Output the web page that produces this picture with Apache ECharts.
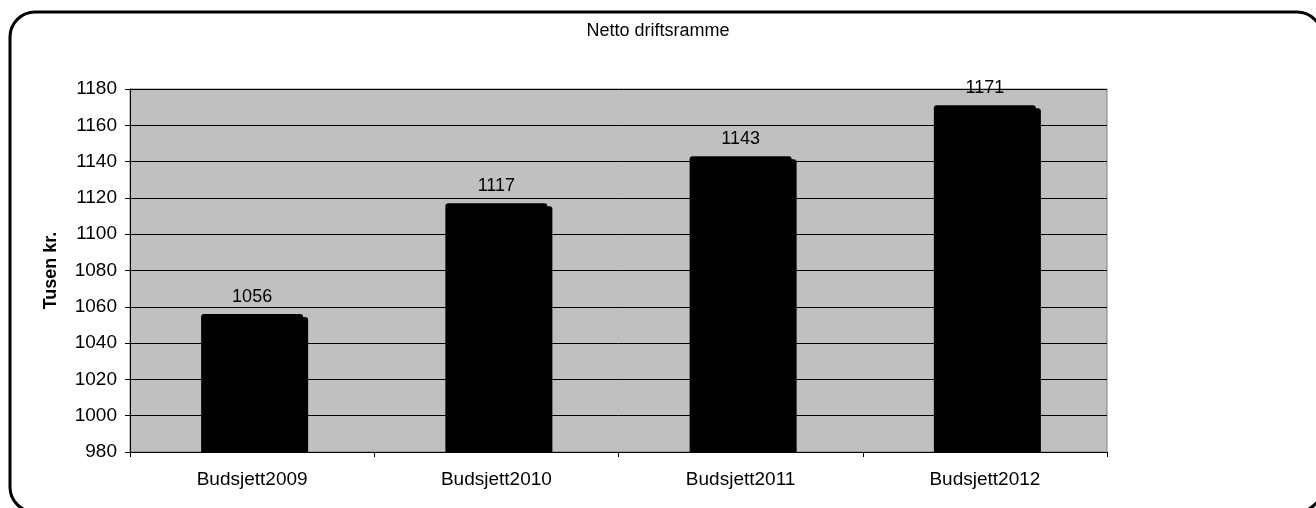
<!DOCTYPE html>
<html>
<head>
<meta charset="utf-8">
<script src="https://cdn.jsdelivr.net/npm/echarts@6/dist/echarts.min.js"></script>
<style>html,body{margin:0;padding:0;background:#fff}#c{width:1316px;height:508px}</style>
</head>
<body>
<div id="c"></div>
<script>
const categories = ['Budsjett2009', 'Budsjett2010', 'Budsjett2011', 'Budsjett2012'];
const values = [1056, 1117, 1143, 1171];
const titleText = 'Netto driftsramme';
const yAxisName = 'Tusen kr.';

const chart = echarts.init(document.getElementById('c'), null, {renderer: 'canvas'});
const font = 'Liberation Sans, Arial, sans-serif';
chart.setOption({
  animation: false,
  backgroundColor: '#fff',
  title: {
    text: titleText, left: 'center', top: 17,
    textStyle: {fontFamily: font, fontSize: 18, fontWeight: 'normal', color: '#000'}
  },
  graphic: [{
    type: 'rect', shape: {x: 10, y: 12, width: 1312, height: 500, r: 25},
    style: {fill: 'none', stroke: '#000', lineWidth: 3}, z: 100
  }, {
    type: 'rect', shape: {x: 131, y: 453, width: 985, height: 5},
    style: {fill: '#fff'}, z: 5
  }],
  grid: {left: 130, right: 209, top: 89, bottom: 56, containLabel: false,
         show: true, backgroundColor: '#C0C0C0', borderColor: '#808080', borderWidth: 1},
  xAxis: {
    type: 'category', data: categories, z: 10,
    axisLine: {lineStyle: {color: '#000', width: 1}},
    axisTick: {show: true, length: 5, alignWithLabel: false, lineStyle: {color: '#000'}},
    axisLabel: {margin: 18, fontFamily: font, fontSize: 19, color: '#000'}
  },
  yAxis: {
    type: 'value', min: 980, max: 1180, interval: 20,
    name: yAxisName, nameLocation: 'middle', nameGap: 70, nameRotate: 90,
    nameTextStyle: {fontFamily: font, fontSize: 18, fontWeight: 'bold', color: '#000'},
    axisLine: {show: true, lineStyle: {color: '#000', width: 1}},
    axisTick: {show: true, length: 5, lineStyle: {color: '#000'}},
    axisLabel: {margin: 13, fontFamily: font, fontSize: 19, color: '#000',
                formatter: v => String(v)},
    splitLine: {show: true, lineStyle: {color: '#000', width: 1}}
  },
  series: [{
    type: 'bar', data: values, barWidth: 102,
    itemStyle: {color: '#000', borderRadius: [3, 3, 0, 0],
                shadowColor: '#000', shadowBlur: 0, shadowOffsetX: 5, shadowOffsetY: 3},
    label: {show: true, position: 'top', distance: 8,
            fontFamily: font, fontSize: 18, color: '#000'}
  }]
});
</script>
</body>
</html>
